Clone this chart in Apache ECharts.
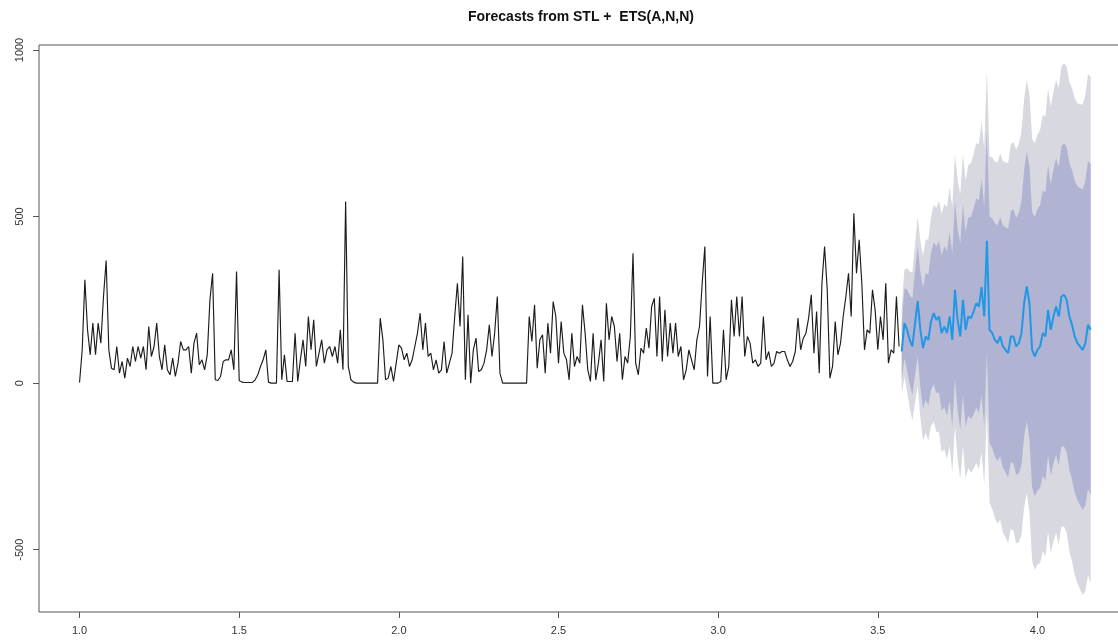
<!DOCTYPE html>
<html><head><meta charset="utf-8">
<script src="https://cdn.jsdelivr.net/npm/echarts@6/dist/echarts.min.js"></script>
<style>html,body{margin:0;padding:0;background:#fff}#c{width:1118px;height:641px}</style>
</head><body><div id="c"></div>
<script>
const titleText = 'Forecasts from STL +  ETS(A,N,N)';
const startTime = 1.0;
const frequency = 120;
const xTickValues = [1.0, 1.5, 2.0, 2.5, 3.0, 3.5, 4.0];
const yTickValues = [-500, 0, 500, 1000];

const history = [
2,100,310,160,85,180,85,180,120,260,
368,100,45,40,110,30,65,15,75,50,
110,65,110,75,110,40,170,80,110,180,
80,40,115,40,25,75,20,60,125,100,
100,110,30,120,150,55,70,40,85,250,
330,10,8,20,65,70,70,100,40,335,
8,3,2,2,2,2,10,25,50,70,
100,3,0,0,0,340,10,85,5,5,
5,150,5,70,130,50,200,100,190,50,
90,130,60,100,110,80,110,60,160,40,
545,50,10,3,0,0,0,0,0,0,
0,0,0,195,130,10,15,50,5,60,
115,105,70,90,50,70,110,150,210,100,
180,80,90,40,70,30,40,125,30,60,
90,200,300,170,380,10,205,0,100,135,
35,40,60,100,175,80,150,260,30,0,
0,0,0,0,0,0,0,0,0,200,
125,235,45,130,145,30,180,90,245,200,
60,185,90,70,10,150,50,80,60,235,
150,40,5,150,10,60,130,5,240,130,
200,170,65,150,10,80,60,140,390,60,
25,105,90,165,105,230,255,80,260,65,
220,80,180,90,180,80,110,10,40,100,
70,40,130,170,300,410,20,200,0,0,
0,5,160,10,50,250,140,260,140,260,
80,140,120,60,70,50,60,200,70,95,
50,60,95,90,95,95,70,50,65,95,
195,100,135,150,195,265,90,215,30,300,
410,280,15,50,185,85,120,200,260,330,
200,510,330,430,300,100,160,150,280,220,
100,200,130,300,60,100,90,260,110
];

const fcMean = [
95,180,160,130,110,180,246,160,105,140,
130,185,210,190,200,150,170,150,200,130,
280,190,140,250,160,200,195,215,240,230,
288,200,427,160,150,130,120,140,110,100,
90,140,140,110,120,150,240,290,240,100,
80,100,110,150,140,220,160,200,230,200,
260,265,250,200,175,140,120,110,100,120,
175,160
];

const fcHi95 = [
225,340,345,335,332,418,498,425,383,430,
432,499,535,526,547,508,538,528,588,528,
688,608,568,687,606,655,659,687,720,718,
784,704,939,680,678,665,662,689,666,663,
660,717,724,701,718,755,852,909,866,733,
720,745,760,805,800,885,830,875,910,885,
950,960,950,905,885,855,840,838,836,864,
927,920
];

const fcLo95 = [
-35,20,-25,-75,-112,-58,-6,-105,-173,-150,
-172,-129,-115,-146,-147,-208,-198,-228,-188,-268,
-128,-228,-288,-187,-286,-255,-269,-257,-240,-258,
-208,-304,-85,-360,-378,-405,-422,-409,-446,-463,
-480,-437,-444,-481,-478,-455,-372,-329,-386,-533,
-560,-545,-540,-505,-520,-445,-510,-475,-450,-485,
-430,-430,-450,-505,-535,-575,-600,-618,-636,-624,
-577,-600
];

const fcHi80 = [
180,285,281,264,255,336,411,333,287,330,
327,390,423,410,427,384,411,397,454,390,
547,463,420,536,452,498,498,524,554,549,
612,530,762,500,495,480,474,499,474,468,
463,517,522,496,511,546,640,695,649,514,
499,522,535,578,572,655,598,641,675,648,
711,720,708,661,639,608,591,586,581,607,
667,657
];

const fcLo80 = [
10,75,39,-4,-35,24,81,-13,-77,-50,
-67,-20,-3,-30,-27,-84,-71,-97,-54,-130,
13,-83,-140,-36,-132,-98,-108,-94,-74,-89,
-36,-130,92,-180,-195,-220,-234,-219,-254,-268,
-283,-237,-242,-276,-271,-246,-160,-115,-169,-314,
-339,-322,-315,-278,-292,-215,-278,-241,-215,-248,
-191,-190,-208,-261,-289,-328,-351,-366,-381,-367,
-317,-337
];

const histData = history.map((v, i) => [startTime + i / frequency, v]);
const fcStart = history.length;
const fcTimes = fcMean.map((_, k) => startTime + (fcStart + k) / frequency);
const meanData = fcMean.map((v, k) => [fcTimes[k], v]);

function bandSeries(name, lo, hi, color, z) {
  return {
    name: name,
    type: 'custom',
    silent: true,
    z: z,
    data: [[fcTimes[0], lo[0]]],
    encode: { x: 0, y: 1 },
    renderItem: function (params, api) {
      const pts = [];
      for (let k = 0; k < fcTimes.length; k++) pts.push(api.coord([fcTimes[k], hi[k]]));
      for (let k = fcTimes.length - 1; k >= 0; k--) pts.push(api.coord([fcTimes[k], lo[k]]));
      return { type: 'polygon', shape: { points: pts }, style: { fill: color, stroke: null } };
    }
  };
}

const chart = echarts.init(document.getElementById('c'), null, { renderer: 'canvas' });
chart.setOption({
  animation: false,
  backgroundColor: '#ffffff',
  title: {
    text: titleText,
    left: 463, top: 5,
    textStyle: { fontFamily: 'Liberation Sans', fontWeight: 'bold', fontSize: 14, color: '#111' }
  },
  grid: {
    show: true, left: 39, top: 45, right: -13, bottom: 29,
    borderColor: '#555', borderWidth: 1,
    containLabel: false, outerBoundsMode: 'none'
  },
  xAxis: {
    type: 'value', min: 0.873, max: 4.293,
    splitLine: { show: false },
    axisLine: { show: false, onZero: false },
    axisTick: { show: true, inside: false, customValues: xTickValues, length: 6, lineStyle: { color: '#555' } },
    axisLabel: {
      customValues: xTickValues, formatter: v => v.toFixed(1),
      margin: 13, color: '#333', fontSize: 11, fontFamily: 'Liberation Sans'
    }
  },
  yAxis: {
    type: 'value', min: -687, max: 1015,
    splitLine: { show: false },
    axisLine: { show: false, onZero: false },
    axisTick: { show: true, inside: false, customValues: yTickValues, length: 6, lineStyle: { color: '#555' } },
    axisLabel: {
      customValues: yTickValues, rotate: 90, formatter: v => String(v),
      margin: 14, color: '#333', fontSize: 11, fontFamily: 'Liberation Sans'
    }
  },
  series: [
    bandSeries('95%', fcLo95, fcHi95, '#D7D8E0', 1),
    bandSeries('80%', fcLo80, fcHi80, '#B0B4D2', 2),
    {
      name: 'history', type: 'line', data: histData, showSymbol: false, symbol: 'none',
      lineStyle: { color: '#1c1c1c', width: 1.15 }, z: 3, silent: true
    },
    {
      name: 'forecast', type: 'line', data: meanData, showSymbol: false, symbol: 'none',
      lineStyle: { color: '#2297E6', width: 2 }, z: 4, silent: true
    }
  ]
});
</script>
</body></html>
